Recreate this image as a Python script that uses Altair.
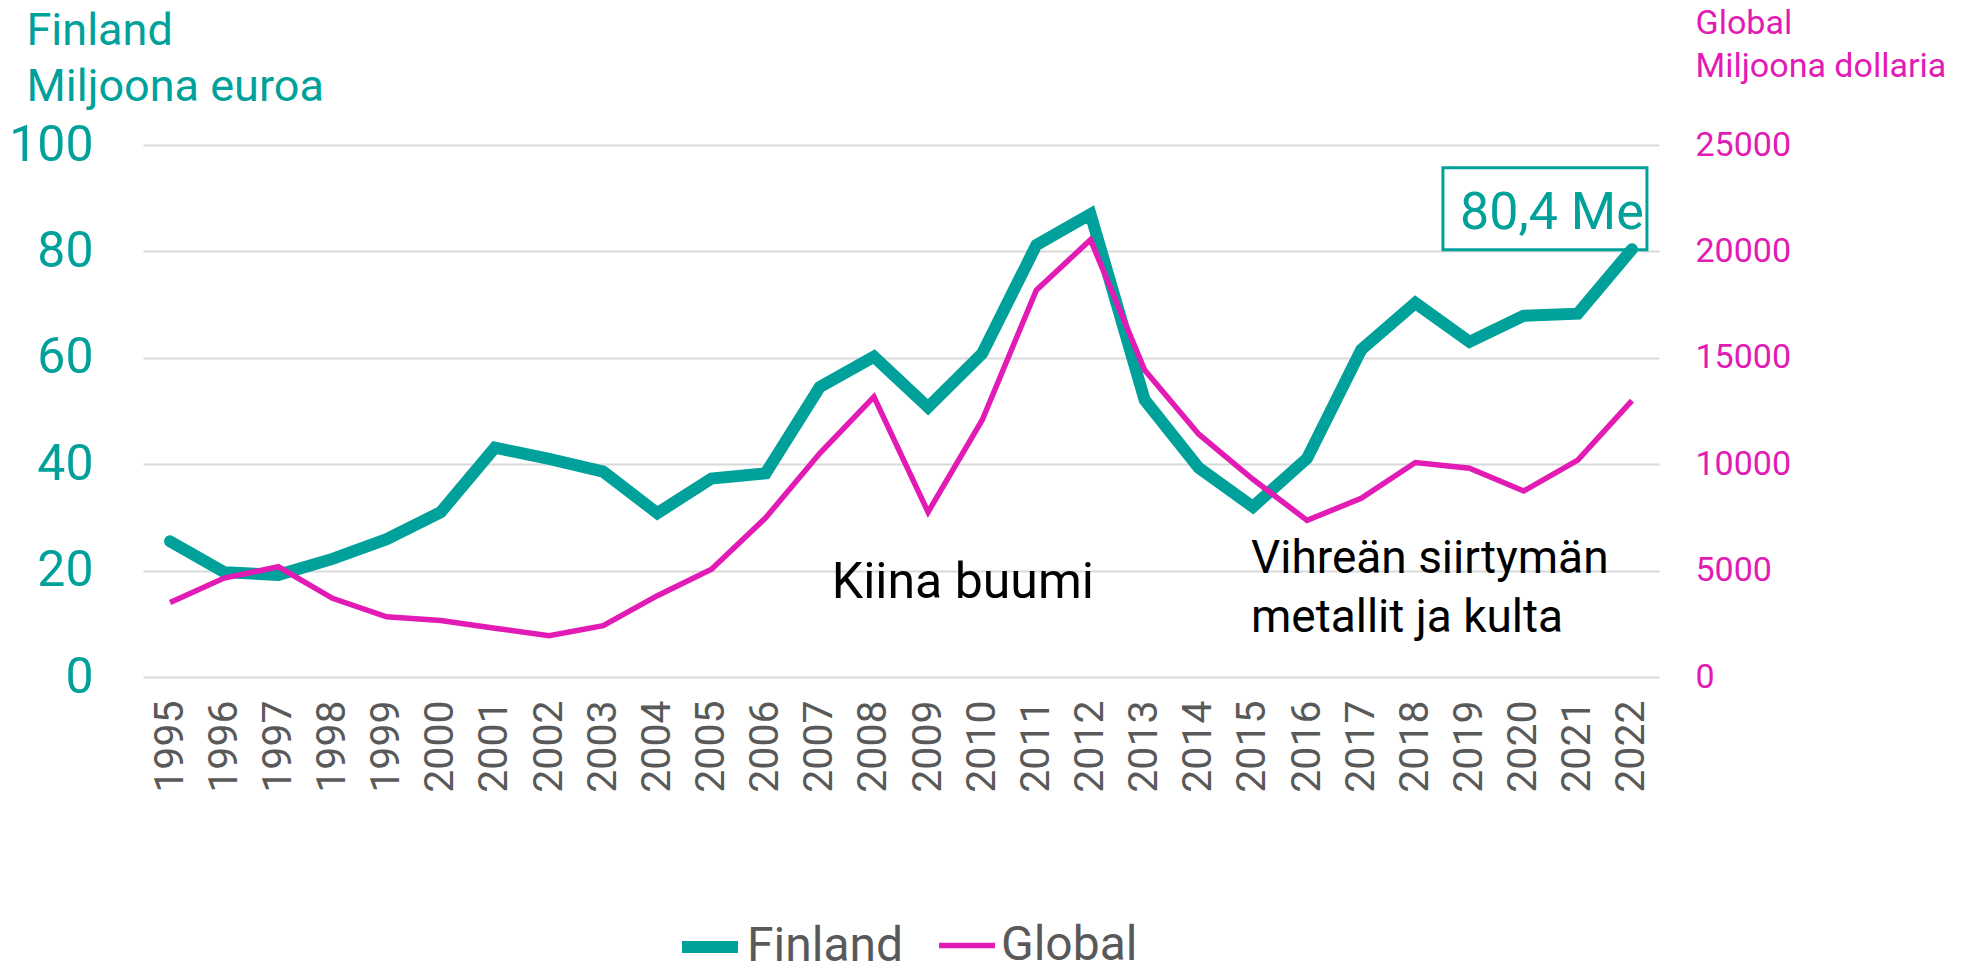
import altair as alt
import pandas as pd

TEAL = "#00A19A"
MAGENTA = "#E11BB4"
GRAY = "#595959"
FONT = "Roboto"

years = [str(y) for y in range(1995, 2023)]
finland = [25.5, 19.7, 19.2, 22.2, 25.9, 31.0, 43.1, 41.0, 38.6, 30.8,
           37.3, 38.3, 54.5, 60.2, 50.7, 60.8, 81.2, 87.0, 52.1, 39.3,
           32.0, 41.1, 61.5, 70.3, 63.0, 67.9, 68.3, 80.4]
global_ = [3500, 4650, 5180, 3700, 2830, 2650, 2290, 1940, 2410, 3820,
           5060, 7480, 10510, 13170, 7750, 12080, 18180, 20550, 14420, 11410,
           9290, 7360, 8400, 10080, 9810, 8740, 10190, 12990]
series_names = ["Finland", "Global"]

left_ticks = [0, 20, 40, 60, 80, 100]
right_ticks = [0, 5000, 10000, 15000, 20000, 25000]

ann1_text = ["Kiina buumi"]
ann1_year = ["2007"]
ann1_value = [14.9]
ann2_text = ["Vihreän siirtymän", "metallit ja kulta"]
ann2_year = ["2015", "2015"]
ann2_value = [19.5, 8.5]

label_text = ["80,4 Me"]
label_year = ["2022"]
label_value = [84.2]
box_value = [88.0]

df = pd.DataFrame({
    "year": years * 2,
    "series": [series_names[0]] * len(years) + [series_names[1]] * len(years),
    "value": finland + global_,
})
ann1 = pd.DataFrame({"text": ann1_text, "year": ann1_year, "value": ann1_value})
ann2 = pd.DataFrame({"text": ann2_text, "year": ann2_year, "value": ann2_value})
lab = pd.DataFrame({"text": label_text, "year": label_year, "value": label_value})
box = pd.DataFrame({"year": label_year, "value": box_value})

xscale = alt.Scale(domain=years)
x_axis = alt.Axis(labelAngle=270, labelFont=FONT, labelFontSize=41, labelColor=GRAY,
                  labelPadding=23, domain=False, ticks=False, grid=False)
x_main = alt.X("year:O", scale=xscale, axis=x_axis, title=None)

yl_scale = alt.Scale(domain=[0, 100])
yr_scale = alt.Scale(domain=[0, 25000])

legend = alt.Legend(orient="none", legendX=533, legendY=768, direction="horizontal",
                    title=None, symbolType="stroke", symbolSize=3136,
                    labelFont=FONT, labelFontSize=48, labelColor=GRAY,
                    labelOffset=3, columnPadding=24, padding=0)
color = alt.Color("series:N", scale=alt.Scale(domain=series_names, range=[TEAL, MAGENTA]),
                  legend=legend)
swidth = alt.StrokeWidth("series:N", scale=alt.Scale(domain=series_names, range=[12, 5.5]),
                         legend=legend)

left_axis = alt.Axis(orient="left", values=left_ticks, format="d", domain=False, ticks=False,
                     grid=True, gridColor="#D9D9D9", gridWidth=2,
                     labelFont=FONT, labelFontSize=50, labelColor=TEAL, labelPadding=50,
                     title=["Finland", "Miljoona euroa"], titleFont=FONT, titleFontSize=45,
                     titleFontWeight="normal", titleColor=TEAL, titleAngle=0,
                     titleAlign="left", titleBaseline="alphabetic",
                     titleX=-117, titleY=-101, titleLineHeight=56)
right_axis = alt.Axis(orient="right", values=right_ticks, format="d", domain=False, ticks=False,
                      grid=False, labelFont=FONT, labelFontSize=34, labelColor=MAGENTA,
                      labelPadding=36,
                      title=["Global", "Miljoona dollaria"], titleFont=FONT, titleFontSize=34,
                      titleFontWeight="normal", titleColor=MAGENTA, titleAngle=0,
                      titleAlign="left", titleBaseline="alphabetic",
                      titleX=36, titleY=-112, titleLineHeight=43)

y_left = alt.Y("value:Q", scale=yl_scale, axis=left_axis)

fin_line = alt.Chart(df).transform_filter(alt.datum.series == "Finland").mark_line(
    strokeCap="round"
).encode(x=x_main, y=y_left, color=color, strokeWidth=swidth)

ann1_layer = alt.Chart(ann1).mark_text(
    align="left", baseline="alphabetic", dx=12, font=FONT, fontSize=50, color="black"
).encode(x=x_main, y=y_left, text="text:N")

ann2_layer = alt.Chart(ann2).mark_text(
    align="left", baseline="alphabetic", dx=-2, font=FONT, fontSize=46, color="black"
).encode(x=x_main, y=y_left, text="text:N")

box_layer = alt.Chart(box).mark_point(
    shape="M-1,-0.402L1,-0.402L1,0.402L-1,0.402Z", size=41616, filled=False,
    color=TEAL, strokeWidth=3, opacity=1
).encode(x=x_main, y=y_left, xOffset=alt.value(-87))

lab_layer = alt.Chart(lab).mark_text(
    align="center", baseline="alphabetic", dx=-80, font=FONT, fontSize=52, color=TEAL
).encode(x=x_main, y=y_left, text="text:N")

left = alt.layer(fin_line, ann1_layer, ann2_layer, box_layer, lab_layer)

glob_line = alt.Chart(df).transform_filter(alt.datum.series == "Global").mark_line().encode(
    x=x_main,
    y=alt.Y("value:Q", scale=yr_scale, axis=right_axis),
    color=color,
    strokeWidth=swidth,
)

chart = alt.layer(left, glob_line).resolve_scale(y="independent").properties(
    width=1516, height=532,
    autosize=alt.AutoSizeParams(type="none"),
    padding={"left": 135, "top": 137, "right": 295, "bottom": 284},
).configure_view(stroke=None)

chart.save("out.html", embed_options={"renderer": "svg", "actions": False})
